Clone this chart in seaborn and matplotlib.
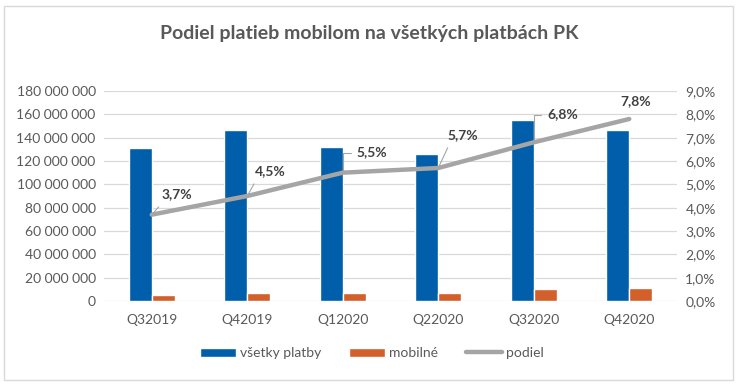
import numpy as np
import pandas as pd
import matplotlib
matplotlib.use("Agg")
import matplotlib.pyplot as plt
from matplotlib.patches import Patch, Rectangle
from matplotlib.lines import Line2D
from matplotlib.ticker import FuncFormatter, MultipleLocator
import seaborn as sns

# --- data ---
quarters = ['Q32019', 'Q42019', 'Q12020', 'Q22020', 'Q32020', 'Q42020']
vsetky = [131_400_000, 146_700_000, 132_200_000, 126_300_000, 155_300_000, 146_700_000]
mobilne = [4_800_000, 6_500_000, 7_200_000, 6_500_000, 10_300_000, 11_000_000]
podiel = [3.7, 4.5, 5.5, 5.7, 6.8, 7.8]
podiel_labels = ['3,7%', '4,5%', '5,5%', '5,7%', '6,8%', '7,8%']

blue = '#005EAA'
orange = '#D35F2A'
gray = '#A5A5A5'
txt = '#595959'

sns.set_theme(style='white')
plt.rcParams['font.family'] = ['Lato', 'DejaVu Sans']

df = pd.DataFrame({
    'q': quarters * 2,
    'val': vsetky + mobilne,
    'typ': ['všetky platby'] * 6 + ['mobilné'] * 6,
})

fig = plt.figure(figsize=(7.39, 3.85), dpi=100)
W, H = 739, 385
ax = fig.add_axes([104 / W, 1 - 301 / H, (677 - 104) / W, (301 - 91) / H])

sns.barplot(data=df, x='q', y='val', hue='typ', palette=[blue, orange],
            width=0.48, gap=0, ax=ax, legend=False, saturation=1)
ax.set_xlim(-0.5, 5.5)
ax.set_ylim(0, 180_000_000)
ax.yaxis.set_major_locator(MultipleLocator(20_000_000))
ax.yaxis.set_major_formatter(FuncFormatter(lambda v, p: f"{int(v):,}".replace(",", " ")))
ax.grid(axis='y', color='#D9D9D9', linewidth=0.9)
ax.set_axisbelow(True)
ax.set_xlabel('')
ax.set_ylabel('')
for s in ax.spines.values():
    s.set_visible(False)
ax.tick_params(axis='both', length=0, labelsize=10, colors=txt, pad=6)
ax.tick_params(axis='x', pad=9)

ax2 = ax.twinx()
sns.lineplot(x=np.arange(len(quarters)), y=podiel, color=gray, linewidth=3.2,
             ax=ax2, legend=False)
ax2.set_ylim(0, 9)
ax2.yaxis.set_major_locator(MultipleLocator(1))
ax2.yaxis.set_major_formatter(FuncFormatter(lambda v, p: f"{v:.1f}".replace(".", ",") + "%"))
for s in ax2.spines.values():
    s.set_visible(False)
ax2.tick_params(axis='y', length=0, labelsize=10, colors=txt, pad=6)
ax2.set_xlim(-0.5, 5.5)

# data labels with leader lines (offsets in points)
offsets = [(18, 14.5), (16.5, 18), (21, 14.5), (18, 24), (21, 20), (4.5, 13)]
for i, (lab, off) in enumerate(zip(podiel_labels, offsets)):
    if i in (2, 4):
        arrow = dict(arrowstyle='-', color=gray, linewidth=0.8, shrinkA=2, shrinkB=1,
                     relpos=(0, 0.5), connectionstyle='angle,angleA=180,angleB=90,rad=0')
    elif i == 5:
        arrow = None
    else:
        arrow = dict(arrowstyle='-', color=gray, linewidth=0.8, shrinkA=3, shrinkB=1,
                     relpos=(0.1, 0.0))
    ax2.annotate(lab, (i, podiel[i]), xytext=off, textcoords='offset points',
                 ha='center', va='center', fontsize=10, fontweight='bold',
                 color='#404040', arrowprops=arrow)

fig.text(0.5, 1 - 33 / H, 'Podiel platieb mobilom na všetkých platbách PK',
         ha='center', va='center', fontsize=14, fontweight='bold', color=txt)

handles = [Patch(facecolor=blue), Patch(facecolor=orange),
           Line2D([0], [0], color=gray, linewidth=3.2)]
fig.legend(handles, ['všetky platby', 'mobilné', 'podiel'], ncol=3,
           loc='center', bbox_to_anchor=(372 / W, 1 - 353 / H), frameon=False,
           fontsize=10, labelcolor=txt, handlelength=2.6, handleheight=0.6,
           handletextpad=0.3, columnspacing=2.0)

fig.patches.append(Rectangle((4 / W, 5 / H), 729 / W, 374 / H, transform=fig.transFigure,
                             fill=False, edgecolor='#D9D9D9', linewidth=1))

fig.savefig('out.png', dpi=100)
